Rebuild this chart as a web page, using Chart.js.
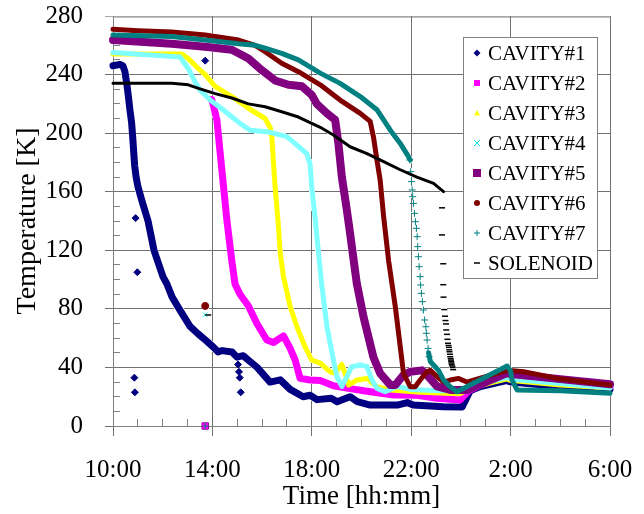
<!DOCTYPE html>
<html>
<head>
<meta charset="utf-8">
<script src="https://cdn.jsdelivr.net/npm/chart.js@4.4.0/dist/chart.umd.min.js"></script>
<style>
  html, body { margin: 0; padding: 0; background: #fff; }
</style>
</head>
<body>
<canvas id="grafico" width="644" height="514"></canvas>
<script>
// tick labels of the time axis (every 4 h, starting 10:00)
const timeLabels = ['10:00', '14:00', '18:00', '22:00', '2:00', '6:00'];

const seriesNames = ['CAVITY#1', 'CAVITY#2', 'CAVITY#3', 'CAVITY#4', 'CAVITY#5', 'CAVITY#6', 'CAVITY#7', 'SOLENOID'];
const seriesColors = ['#000080', '#ff00ff', '#ffff00', '#7fffff', '#800080', '#800000', '#008080', '#000000'];
const markStyles = ['rectRot', 'rect', 'triangle', 'crossRot', 'rect', 'circle', 'cross', 'line'];
const markSizes = [3.5, 3, 3, 3, 4, 3, 3, 3];
const bandWidths = [7, 7, 5, 5, 8, 5, 5, 3];

// [hours after 10:00, temperature K]
const cav1 = [[0,246],[0.28,247],[0.40,246],[0.48,242],[0.56,233],[0.62,225],[0.68,216],[0.75,207],[0.79,198],[0.83,188],[0.87,178],[0.93,170],[1.01,163],[1.16,154],[1.41,140],[1.65,120],[2.01,102],[2.17,97],[2.38,88],[2.70,79],[3.10,68],[3.42,63],[3.77,58],[4.03,54],[4.23,50.5],[4.39,51.5],[4.79,50.5],[4.99,47],[5.24,48],[5.52,44],[5.80,40],[6.32,30],[6.73,31.5],[7.13,25],[7.65,20],[7.93,21],[8.22,18],[8.78,19],[9.02,16.6],[9.54,20],[9.83,16.6],[10.35,14.3],[11.44,14.3],[11.84,16],[12.08,14.3],[13.29,13.2],[14.05,13],[14.37,24],[14.78,27],[15.83,31],[16.03,30],[18,27],[20,25]];
const cav2 = [[3.97,223],[4.04,219],[4.18,209],[4.38,175],[4.58,141],[4.78,113],[4.91,97],[5.11,90],[5.45,82],[5.79,70],[6.19,58.7],[6.46,57],[6.86,61.5],[7.13,53],[7.33,45],[7.53,32.5],[7.93,31.4],[8.34,31],[8.87,27.5],[9.54,25.5],[10.35,23.4],[11.29,21.2],[12.23,21],[13.04,19],[13.97,17.8],[14.30,24],[14.78,28],[15.83,34],[16.03,33],[18,30],[20,27]];
const cav3 = [[0,254],[2.77,254],[3.03,251],[3.44,244],[3.71,240],[4.11,232],[4.78,225],[5.45,217],[6.12,210],[6.32,204],[6.39,198],[6.52,164],[6.66,136],[6.73,118],[6.86,102],[7.13,81.5],[7.40,67.8],[7.73,54],[8.00,45],[8.34,43],[8.74,37],[8.94,36],[9.21,42],[9.34,36],[9.48,28],[9.81,31.4],[10.22,32.5],[10.62,26.8],[11.16,24.6],[12.36,23],[13.97,22],[14.38,26],[15.83,32],[16.03,31],[18,28],[20,26]];
const cav4 = [[0,255],[2.70,252],[3.03,244],[3.30,235],[3.50,229.5],[3.91,222.6],[4.43,216],[5.11,206.7],[5.52,202],[6.19,201],[7.00,197.6],[7.53,190],[7.80,186],[7.93,179],[8.00,163],[8.14,141],[8.27,118],[8.41,95],[8.61,68],[8.81,50],[8.87,45],[9.01,33.7],[9.21,27],[9.41,33.7],[9.61,40.5],[9.95,41.7],[10.22,40.5],[10.42,31.4],[10.62,25.7],[10.95,23.4],[11.43,27],[11.96,25],[13.17,24],[13.97,24],[14.38,27],[15.83,33],[16.03,32],[18,29],[20,26]];
const cav5 = [[0,263.6],[2.36,261],[3.71,259],[4.78,257],[5.45,251],[5.99,243],[6.52,236],[7.06,233],[7.60,232],[8.00,226],[8.20,220],[8.61,213.5],[8.94,209],[9.07,193],[9.21,170],[9.41,147.5],[9.54,131.6],[9.81,97.4],[10.08,74.6],[10.48,47],[10.75,36],[11.16,28],[11.36,28],[11.69,34.8],[11.96,37],[12.43,38],[12.63,35],[13.04,27],[13.57,24.6],[14.24,24.6],[14.58,27],[15.83,36],[16.03,35.5],[18,32],[20,28.5]];
const cav6 = [[0,271],[1.02,270],[2.36,269],[3.71,267],[5.05,263.6],[5.72,260],[6.12,255.6],[6.79,247.7],[7.46,242],[8.34,233],[9.14,222.6],[9.95,213.5],[10.35,208],[10.48,197.6],[10.62,181.7],[10.75,168],[10.89,143],[11.09,113],[11.36,81.5],[11.56,54],[11.69,36],[11.96,26.8],[12.16,26.8],[12.36,31.4],[12.63,37],[12.77,38],[13.04,33.7],[13.30,30],[13.57,31.4],[13.91,32.5],[14.24,30],[14.51,31.4],[15.86,38],[16.53,37],[17.87,32.5],[20,28]];
const cav7 = [[0,267],[2.36,266],[3.71,263.6],[5.05,261],[5.72,260],[6.12,258],[6.79,254.5],[7.46,250],[8.34,241],[9.14,234],[9.95,225],[10.62,216],[11.16,202],[11.56,193],[11.89,184],[11.96,181.7],[12.3,null],[12.70,50],[12.77,44],[12.90,41.7],[13.10,38],[13.30,31.4],[13.57,26.8],[13.84,23.4],[15.86,41],[15.99,38],[16.06,31.4],[16.26,24.6],[18,24],[20,22.3]];
const sol = [[0,234],[1.69,234],[2.36,234],[3.03,233],[3.44,230.6],[4.11,227],[4.78,224],[5.45,220],[6.12,218],[6.79,214.6],[7.46,211],[8.34,204],[8.87,198.7],[9.54,190.7],[10.22,186],[10.89,180.5],[11.56,175],[12.23,170],[12.90,165.7],[13.30,160]];

// fast drops where single markers are visible
const cav7Drop = [[11.94,181.7],[11.98,173.7],[12.01,166.9],[12.04,161.2],[12.06,156.6],[12.09,152],[12.13,145.2],[12.17,139.5],[12.21,135],[12.24,129.3],[12.26,122.5],[12.29,115.6],[12.32,108.8],[12.36,102],[12.38,96.3],[12.41,90.6],[12.45,84.9],[12.49,79.2],[12.54,72.4],[12.59,67.8],[12.61,63.3],[12.64,58.7],[12.68,53],[12.72,47.3]];
const solDrop = [[13.24,149],[13.24,130.5],[13.29,110.8],[13.29,96.5],[13.30,88],[13.33,79.5],[13.36,75],[13.38,72],[13.40,69.7],[13.41,65.6],[13.44,62.6],[13.46,59.2],[13.48,56.5],[13.50,55],[13.52,53.7],[13.53,52],[13.54,50.7],[13.56,49],[13.57,47.3],[13.59,46],[13.60,45],[13.61,44],[13.62,43],[13.63,42],[13.65,41],[13.67,40],[13.69,38.5]];

// odd readings
const cav1Odd = [[0.86,33],[0.88,23],[0.91,142],[0.98,105],[3.71,249.5],[5.03,42],[5.07,37],[5.10,33],[5.14,23]];
const cav2Odd = [[3.71,0]];
const cav4Odd = [[3.71,76]];
const cav5Odd = [[3.71,0]];
const cav6Odd = [[3.71,82]];
const cav7Odd = [[3.71,0]];
const solOdd = [[3.83,75.8]];

function pts(arr) {
  return arr.map(p => ({ x: p[0], y: p[1] }));
}

const mainSeries = [cav1, cav2, cav3, cav4, cav5, cav6, cav7, sol];
let datasets = mainSeries.map((s, i) => ({
  label: seriesNames[i],
  data: pts(s),
  showLine: true,
  borderColor: seriesColors[i],
  backgroundColor: seriesColors[i],
  borderWidth: bandWidths[i],
  borderJoinStyle: 'round',
  borderCapStyle: 'round',
  pointRadius: 0,
  tension: 0,
  clip: false,
  order: 10 - i
}));

function markers(arr, idx, style, r, extra) {
  return Object.assign({
    label: seriesNames[idx] + ' pts',
    data: pts(arr),
    showLine: false,
    pointStyle: style,
    pointRadius: r,
    pointBackgroundColor: seriesColors[idx],
    pointBorderColor: seriesColors[idx],
    pointBorderWidth: 1,
    clip: false,
    order: 10 - idx
  }, extra || {});
}

datasets.push(markers(cav1Odd, 0, 'rectRot', 3.5));
datasets.push(markers(cav5Odd, 4, 'rect', 4.5, { order: 1 }));
datasets.push(markers(cav2Odd, 1, 'rect', 3.5, { order: 0 }));
datasets.push(markers(cav7Odd, 6, 'cross', 3, { order: -1 }));
datasets.push(markers(cav4Odd, 3, 'crossRot', 3, { pointBorderColor: '#00e0e0' }));
datasets.push(markers(cav6Odd, 5, 'circle', 3.5));
datasets.push(markers(solOdd, 7, 'line', 3, { pointBorderWidth: 1.5 }));
datasets.push(markers(cav7Drop, 6, 'cross', 3.5, { pointBorderWidth: 1 }));
datasets.push(markers(solDrop, 7, 'line', 3, { pointBorderWidth: 1.5 }));

function drawMarker(ctx, style, x, y, r, color) {
  ctx.save();
  ctx.fillStyle = color;
  ctx.strokeStyle = color;
  ctx.lineWidth = 1.5;
  ctx.beginPath();
  if (style === 'rectRot') {
    ctx.moveTo(x, y - r); ctx.lineTo(x + r, y); ctx.lineTo(x, y + r); ctx.lineTo(x - r, y);
    ctx.closePath(); ctx.fill();
  } else if (style === 'rect') {
    ctx.fillRect(x - r, y - r, 2 * r, 2 * r);
  } else if (style === 'triangle') {
    ctx.moveTo(x, y - r); ctx.lineTo(x + r, y + r * 0.8); ctx.lineTo(x - r, y + r * 0.8);
    ctx.closePath(); ctx.fill();
  } else if (style === 'crossRot') {
    ctx.lineWidth = 1;
    ctx.moveTo(x - r, y - r); ctx.lineTo(x + r, y + r);
    ctx.moveTo(x + r, y - r); ctx.lineTo(x - r, y + r); ctx.stroke();
  } else if (style === 'circle') {
    ctx.arc(x, y, r, 0, Math.PI * 2); ctx.fill();
  } else if (style === 'cross') {
    ctx.lineWidth = 1;
    ctx.moveTo(x - r, y); ctx.lineTo(x + r, y);
    ctx.moveTo(x, y - r); ctx.lineTo(x, y + r); ctx.stroke();
  } else if (style === 'line') {
    ctx.moveTo(x - r, y); ctx.lineTo(x + r, y); ctx.stroke();
  }
  ctx.restore();
}

// grid goes only on background pixels, so it stays behind the curves
function drawGrid(chart) {
  const ctx = chart.ctx;
  const W = chart.width, H = chart.height;
  const img = ctx.getImageData(0, 0, W, H);
  const d = img.data;
  const xs = chart.scales.x, ys = chart.scales.y;
  const a = chart.chartArea;
  const L = Math.floor(a.left), R = Math.floor(a.right), T = Math.floor(a.top), B = Math.floor(a.bottom);

  function put(x, y, g) {
    if (x < 0 || y < 0 || x >= W || y >= H) return;
    const k = (y * W + x) * 4;
    if (d[k + 3] < 30 || (d[k] > 235 && d[k + 1] > 235 && d[k + 2] > 235)) {
      d[k] = g; d[k + 1] = g; d[k + 2] = g; d[k + 3] = 255;
    }
  }
  function vline(x, y0, y1, g) { for (let y = y0; y <= y1; y++) put(x, y, g); }
  function hline(y, x0, x1, g) { for (let x = x0; x <= x1; x++) put(x, y, g); }

  for (let h = 0; h <= 20; h++) {
    const px = Math.floor(xs.getPixelForValue(h));
    if (h % 4 === 0) {
      vline(px, h === 0 ? B : T, B + 9, 112);
    } else {
      vline(px, B - 7, B, 128);
    }
  }
  for (let t = 0; t <= 270; t += 10) {
    const py = Math.floor(ys.getPixelForValue(t));
    if (t % 40 === 0) {
      hline(py, L - 8, t === 0 ? L : R, 112);
    } else {
      hline(py, L, L + 6, 128);
    }
  }
  hline(T, L - 8, R, 168);
  hline(T + 1, L, R, 190);
  vline(L, T, B, 128);
  ctx.putImageData(img, 0, 0);
}

function drawLegend(chart) {
  const ctx = chart.ctx;
  ctx.save();
  const left = 463, top = 37, w = 134, h = 241;
  ctx.fillStyle = '#fff';
  ctx.fillRect(left, top, w, h);
  ctx.strokeStyle = '#808080';
  ctx.lineWidth = 1;
  ctx.strokeRect(left + 0.5, top + 0.5, w, h);
  ctx.font = '21px "Liberation Serif", "Times New Roman", serif';
  ctx.textBaseline = 'middle';
  seriesNames.forEach((name, i) => {
    const y = top + 16 + i * 30;
    drawMarker(ctx, markStyles[i], left + 14, y, markSizes[i], i === 3 ? '#00e8e8' : seriesColors[i]);
    ctx.fillStyle = '#000';
    ctx.fillText(name, left + 25, y + 1);
  });
  ctx.restore();
}

const extras = {
  id: 'extras',
  afterDraw(chart) {
    drawGrid(chart);
    drawLegend(chart);
  }
};

const serif = '"Liberation Serif", "Times New Roman", serif';

const config = {
  type: 'scatter',
  data: { datasets: datasets },
  options: {
    responsive: false,
    animation: false,
    layout: { padding: { top: 16, right: 34, left: 0, bottom: 0 } },
    plugins: {
      legend: { display: false },
      tooltip: { enabled: false }
    },
    scales: {
      x: {
        type: 'linear',
        min: 0,
        max: 20,
        afterFit: (s) => { s.height = 88; s.paddingLeft = 0; s.paddingRight = 0; },
        ticks: {
          stepSize: 4,
          color: '#000',
          padding: 21,
          font: { family: serif, size: 25 },
          maxRotation: 0,
          callback: (v) => timeLabels[v / 4]
        },
        grid: { display: false },
        border: { display: true, color: '#808080' },
        title: {
          display: true,
          text: 'Time [hh:mm]',
          color: '#000',
          font: { family: serif, size: 27 },
          padding: { top: 0, bottom: 1 }
        }
      },
      y: {
        min: 0,
        max: 280,
        afterFit: (s) => { s.width = 113; s.paddingTop = 0; s.paddingBottom = 0; },
        ticks: {
          stepSize: 40,
          color: '#000',
          padding: 22,
          font: { family: serif, size: 25 }
        },
        grid: { display: false },
        border: { display: true, color: '#808080' },
        title: {
          display: true,
          text: 'Temperature [K]',
          color: '#000',
          font: { family: serif, size: 28 },
          padding: { top: 11, bottom: 0 }
        }
      }
    }
  },
  plugins: [extras]
};

var graficoTemp = new Chart(document.getElementById('grafico'), config);
</script>
</body>
</html>
